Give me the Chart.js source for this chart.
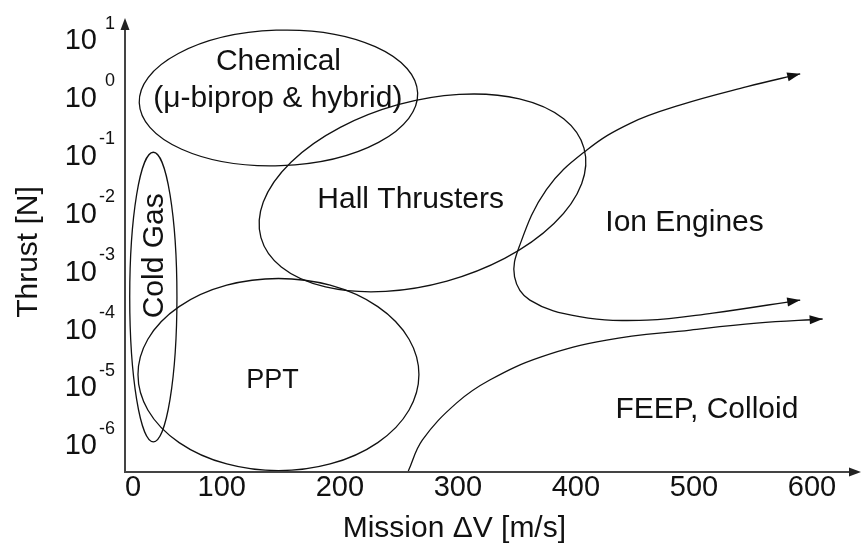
<!DOCTYPE html>
<html>
<head>
<meta charset="utf-8">
<script src="https://cdn.jsdelivr.net/npm/chart.js@4.4.1/dist/chart.umd.min.js"></script>
<style>
  html, body { margin: 0; padding: 0; background: #fff; }
  canvas { display: block; }
</style>
</head>
<body>
<canvas id="chart" width="861" height="544"></canvas>
<script>
// axis ticks
const xTickValues = [0, 100, 200, 300, 400, 500, 600];
const yTickExponents = [1, 0, -1, -2, -3, -4, -5, -6];

// thruster regions (ellipses): centre, half width in m/s, half height in decades, tilt in degrees
const regionNames = ['Chemical', 'Cold Gas', 'PPT', 'Hall Thrusters'];
const regionCenterDV = [148, 42, 148, 270];
const regionCenterThrust = [0.96, 3.5e-4, 1.6e-5, 0.022];
const regionHalfDV = [118, 20, 119, 142];
const regionHalfDecades = [1.17, 2.5, 1.66, 1.58];
const regionTilt = [-2, 0, 0, -15.5];

// ion engine curve (arrow at both ends)
const ionDV = [590, 545, 488, 446, 409, 375, 352, 348, 361, 403, 460, 516, 590];
const ionThrust = [2.5, 1.5, 0.72, 0.35, 0.12, 0.025, 2.6e-3, 7.8e-4, 3.1e-4, 1.6e-4, 1.4e-4, 1.85e-4, 3.1e-4];

// FEEP / colloid boundary
const feepDV = [258, 270, 299, 327, 370, 426, 497, 553, 609];
const feepThrust = [3.46e-7, 1.19e-6, 5.2e-6, 1.29e-5, 3.2e-5, 6.3e-5, 9.4e-5, 1.24e-4, 1.46e-4];

// text inside the plot
const regionLabels = [
  { text: 'Chemical', x: 148, y: 2.9 },
  { text: '(\u03bc-biprop & hybrid)', x: 147.5, y: 0.67 },
  { text: 'Hall Thrusters', x: 260, y: 0.012 },
  { text: 'Ion Engines', x: 492, y: 4.8e-3 },
  { text: 'FEEP, Colloid', x: 511, y: 2.85e-6 },
  { text: 'PPT', x: 143, y: 9.4e-6, small: true },
  { text: 'Cold Gas', x: 50, y: 1.8e-3, rotate: true }
];

const FONT = '"Liberation Sans", Arial, Helvetica, sans-serif';
const INK = '#111';

function toPoints(xs, ys) {
  return xs.map((v, i) => ({ x: v, y: ys[i] }));
}

function arrowHead(ctx, tipX, tipY, fromX, fromY, len, half) {
  const ang = Math.atan2(tipY - fromY, tipX - fromX);
  ctx.beginPath();
  ctx.moveTo(tipX, tipY);
  ctx.lineTo(tipX - len * Math.cos(ang) + half * Math.sin(ang), tipY - len * Math.sin(ang) - half * Math.cos(ang));
  ctx.lineTo(tipX - len * Math.cos(ang) - half * Math.sin(ang), tipY - len * Math.sin(ang) + half * Math.cos(ang));
  ctx.closePath();
  ctx.fill();
}

function near(ax, ay, bx, by) {
  return ax === undefined || (Math.abs(ax - bx) < 0.5 && Math.abs(ay - by) < 0.5);
}

const diagram = {
  id: 'diagram',
  afterDatasetsDraw(chart) {
    const { ctx, chartArea: a, scales: { x, y } } = chart;
    ctx.save();

    // region ellipses
    ctx.strokeStyle = INK;
    ctx.lineWidth = 1.3;
    regionNames.forEach((name, i) => {
      const cx = x.getPixelForValue(regionCenterDV[i]);
      const cy = y.getPixelForValue(regionCenterThrust[i]);
      const rx = x.getPixelForValue(regionCenterDV[i] + regionHalfDV[i]) - cx;
      const ry = cy - y.getPixelForValue(regionCenterThrust[i] * Math.pow(10, regionHalfDecades[i]));
      ctx.beginPath();
      ctx.ellipse(cx, cy, rx, ry, regionTilt[i] * Math.PI / 180, 0, 2 * Math.PI);
      ctx.stroke();
    });

    // arrow heads on the curves
    ctx.fillStyle = INK;
    chart.data.datasets.forEach((ds, di) => {
      const pts = chart.getDatasetMeta(di).data;
      const last = pts[pts.length - 1];
      const prev = pts[pts.length - 2];
      let fx = last.cp1x, fy = last.cp1y;
      if (near(fx, fy, last.x, last.y)) { fx = prev.x; fy = prev.y; }
      arrowHead(ctx, last.x, last.y, fx, fy, 13, 4.5);
      if (ds.arrowStart) {
        const first = pts[0];
        let sx = first.cp2x, sy = first.cp2y;
        if (near(sx, sy, first.x, first.y)) { sx = pts[1].x; sy = pts[1].y; }
        arrowHead(ctx, first.x, first.y, sx, sy, 13, 4.5);
      }
    });

    // axes with arrows
    ctx.strokeStyle = '#444';
    ctx.fillStyle = '#222';
    ctx.lineWidth = 2;
    ctx.beginPath();
    ctx.moveTo(a.left, a.top + 8);
    ctx.lineTo(a.left, a.bottom);
    ctx.lineTo(a.right - 8, a.bottom);
    ctx.stroke();
    arrowHead(ctx, a.left, a.top, a.left, a.top + 20, 12, 4.5);
    arrowHead(ctx, a.right, a.bottom, a.right - 20, a.bottom, 12, 4.5);

    // x tick labels
    ctx.fillStyle = INK;
    ctx.font = '29px ' + FONT;
    ctx.textBaseline = 'alphabetic';
    xTickValues.forEach(v => {
      if (v < x.min) {
        ctx.textAlign = 'left';
        ctx.fillText(String(v), a.left, a.bottom + 24);
      } else {
        ctx.textAlign = 'center';
        ctx.fillText(String(v), x.getPixelForValue(v), a.bottom + 24);
      }
    });

    // y tick labels: 10 with exponent
    yTickExponents.forEach(e => {
      const py = y.getPixelForValue(Math.pow(10, e));
      ctx.textAlign = 'right';
      ctx.font = '29px ' + FONT;
      ctx.fillText('10', a.left - 28, py + 10);
      ctx.font = '18px ' + FONT;
      ctx.fillText(String(e), a.left - 10, py - 10.5);
    });

    // axis titles
    ctx.font = '30px ' + FONT;
    ctx.textAlign = 'center';
    ctx.fillText('Mission \u0394V [m/s]', x.getPixelForValue(297), a.bottom + 65);
    ctx.save();
    ctx.translate(37, (a.top + a.bottom) / 2 + 7);
    ctx.rotate(-Math.PI / 2);
    ctx.fillText('Thrust [N]', 0, 0);
    ctx.restore();

    // region labels
    regionLabels.forEach(l => {
      const px = x.getPixelForValue(l.x);
      const py = y.getPixelForValue(l.y);
      ctx.font = (l.small ? '27px ' : '30px ') + FONT;
      ctx.textAlign = 'center';
      if (l.rotate) {
        ctx.save();
        ctx.translate(px, py);
        ctx.rotate(-Math.PI / 2);
        ctx.fillText(l.text, 0, 0);
        ctx.restore();
      } else {
        ctx.fillText(l.text, px, py);
      }
    });

    ctx.restore();
  }
};

new Chart(document.getElementById('chart'), {
  type: 'line',
  data: {
    datasets: [
      { label: 'Ion Engines', data: toPoints(ionDV, ionThrust), arrowStart: true },
      { label: 'FEEP, Colloid', data: toPoints(feepDV, feepThrust) }
    ]
  },
  options: {
    responsive: false,
    animation: false,
    devicePixelRatio: 1,
    layout: { padding: { left: 125, right: 0, top: 18, bottom: 72 } },
    elements: {
      point: { radius: 0, hoverRadius: 0 },
      line: { borderColor: INK, borderWidth: 1.3, tension: 0.4, capBezierPoints: false, fill: false }
    },
    datasets: { line: { clip: false } },
    plugins: { legend: { display: false }, tooltip: { enabled: false } },
    events: [],
    scales: {
      x: { type: 'linear', min: 18, max: 641.5, display: false },
      y: { type: 'logarithmic', min: 3.33e-7, max: 23.05, display: false }
    }
  },
  plugins: [diagram]
});
</script>
</body>
</html>
